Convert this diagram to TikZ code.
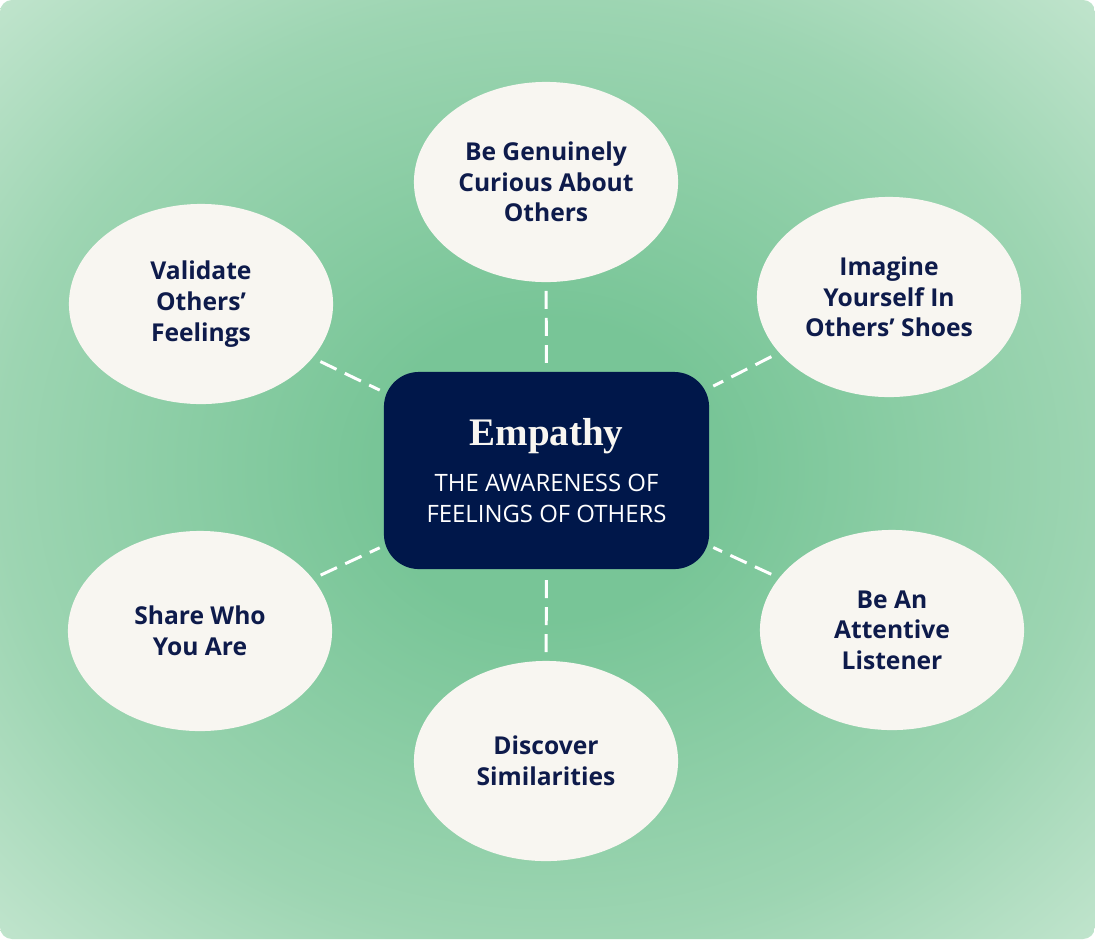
\documentclass[tikz,border=0pt]{standalone}
\usepackage{fontspec}
\setmainfont{Open Sans}
\newfontfamily\headfont{Liberation Serif}
\usetikzlibrary{shapes.geometric}

\definecolor{bgmid}{HTML}{78C597}
\definecolor{bgedge}{HTML}{9DD5B2}
\definecolor{bgcorner}{HTML}{C2E5CE}
\definecolor{cream}{HTML}{F8F6F1}
\definecolor{navy}{HTML}{00174A}
\definecolor{ink}{HTML}{0E1B4B}
\pgfdeclareradialshading{glow}{\pgfpoint{0bp}{0bp}}{color(0bp)=(bgmid); color(8bp)=(bgmid); color(25bp)=(bgedge); color(36bp)=(bgcorner); color(50bp)=(bgcorner)}

\begin{document}
\begin{tikzpicture}[x=0.01cm, y=-0.01cm,
    bubble/.style={ellipse, fill=cream, inner sep=0pt, minimum width=2.64cm, minimum height=2cm,
        align=center, text=ink, font=\bfseries\fontsize{7}{8.7}\selectfont},
    core/.style={rectangle, rounded corners=0.35cm, fill=navy, minimum width=3.25cm, minimum height=1.97cm,
        align=center, text=white, font=\fontsize{6.8}{8.8}\selectfont},
    link/.style={draw=white, line width=0.85pt, dash pattern=on 5.1pt off 2.6pt, shorten <=2.3pt, shorten >=1.1pt}]

    \useasboundingbox (0,0) rectangle (1095,939);
    \shade[shading=glow, rounded corners=3.4pt] (0,0) rectangle (1095,939);

    \node[core] (empathy) at (546.5,470.5) {{\headfont\bfseries\fontsize{11.1}{12}\selectfont\color{cream}Empathy}\\[4.4pt]
        THE AWARENESS OF\\FEELINGS OF OTHERS};

    \node[bubble] (curious) at (546,182) {Be Genuinely\\Curious About\\Others};
    \node[bubble] (validate) at (201,304) {Validate\\Others’\\Feelings};
    \node[bubble] (imagine) at (889,297) {Imagine\\Yourself In\\Others’ Shoes};
    \node[bubble] (share) at (200,631) {Share Who\\You Are};
    \node[bubble] (listen) at (892,630) {Be An\\Attentive\\Listener};
    \node[bubble] (discover) at (546,761) {Discover\\Similarities};

    \foreach \n in {curious,validate,imagine,share,listen,discover}
        \draw[link] (\n) -- (empathy);

\end{tikzpicture}
\end{document}
